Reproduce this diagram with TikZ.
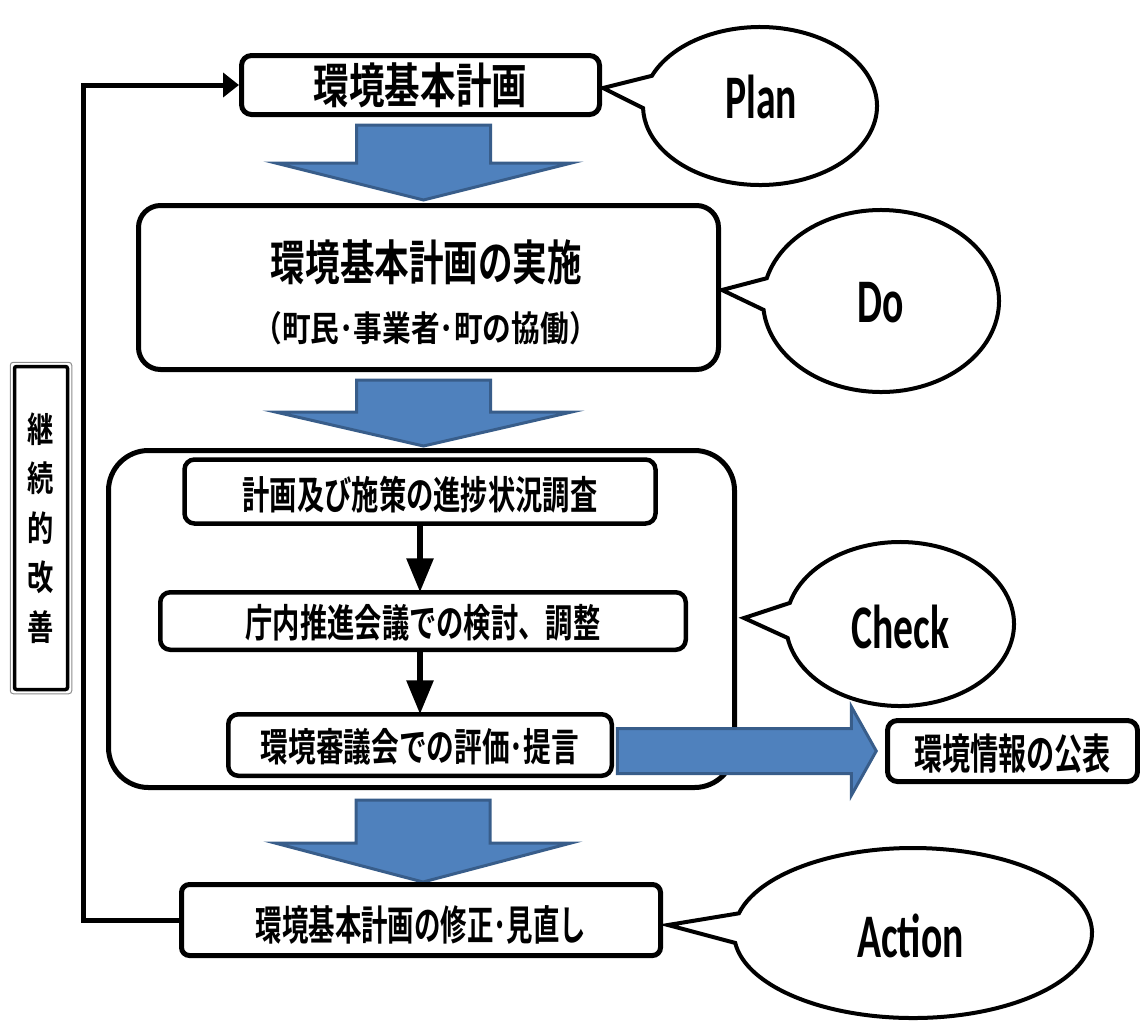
\documentclass[tikz,border=0pt]{standalone}
\usepackage{fontspec}
\usepackage{graphicx}
\usetikzlibrary{arrows.meta,calc}
\newfontfamily\jp{Noto Sans CJK JP}[BoldFont={Noto Sans CJK JP Bold}]
\newfontfamily\lat{Carlito}
\definecolor{blkfill}{HTML}{4F81BD}
\definecolor{blkline}{HTML}{385D8A}
\newcommand\jt[3]{{\fontsize{#1}{#1}\selectfont\scalebox{#2}[1]{#3}}}
\newcommand\dn[2]{\raisebox{-#1}[\height][\depth]{#2}}
\newcommand\lt[1]{{\fontsize{62}{62}\selectfont\scalebox{0.64}[1]{#1}}}
\newcommand\blockdown[3]{\filldraw[blk] (#1) ++(-67,0) -- ++(0,#2) -- ++(-81,0) -- ++(148,#3) -- ++(148,-#3) -- ++(-81,0) -- ++(0,-#2) -- cycle;}
\newcommand\callout[6]{\filldraw[callout] (#6) -- ([shift={(#4:#2 and #3)}]#1) arc[start angle=#4, end angle=#5, x radius=#2, y radius=#3] -- cycle;}
\begin{document}
\begin{tikzpicture}[x=1pt,y=-1pt,
  box/.style={draw=black, fill=white, line width=5pt, rounded corners=10pt, inner sep=0pt, outer sep=0pt, font=\jp\bfseries, align=center},
  jtext/.style={font=\jp\bfseries, inner sep=0pt, anchor=base},
  blk/.style={fill=blkfill, draw=blkline, line width=3pt, line join=miter},
  callout/.style={draw=black, fill=white, line width=4pt, line join=miter},
  fbline/.style={line width=5pt, line join=miter, -{Triangle[width=24pt,length=16pt]}},
  darr/.style={line width=6pt, -{Triangle[width=26pt,length=34pt]}},
  ptext/.style={font=\lat\bfseries, anchor=base, inner sep=0pt}
]
\useasboundingbox (0,0) rectangle (1140,1021);

% main boxes
\node[box, minimum width=358pt, minimum height=59pt] (plan) at (420.5,85) {\jt{48}{0.74}{環境基本計画}};
\node[box, rounded corners=22pt, minimum width=580pt, minimum height=164pt] (do) at (428.5,287.5) {};
\node[jtext] (do1) at (426.5,280) {\jt{48}{0.72}{環境基本計画の実施}};
\node[jtext] (do2) at (425.5,341) {\jt{35}{0.82}{（町民･事業者･町の協働）}};

% blue arrows down (drawn before the boxes they point to)
\coordinate (a1) at ($(plan.south)+(3,10.5)$);
\blockdown{a1}{38}{37}
\coordinate (a2) at ($(do.south)+(-5,10.5)$);
\blockdown{a2}{32}{34}

\node[box, rounded corners=40pt, minimum width=626pt, minimum height=337pt] (chk) at (421.5,619) {};
\coordinate (a3) at ($(chk.south)+(1.5,12.5)$);
\blockdown{a3}{43}{39}

\node[box, line width=4.5pt, minimum width=471pt, minimum height=64pt] (ca) at (420,491.5) {\dn{3pt}{\jt{39}{0.70}{計画及び施策の進捗状況調査}}};
\node[box, line width=4.5pt, minimum width=525.5pt, minimum height=57.5pt] (cb) at (423,621) {\dn{2pt}{\jt{39}{0.70}{庁内推進会議での検討、調整}}};
\node[box, line width=4.5pt, minimum width=383.5pt, minimum height=61.5pt] (cc) at (420,745) {\dn{2pt}{\jt{39}{0.71}{環境審議会での評価･提言}}};
\draw[darr] (ca.south) -- (ca.south |- cb.north);
\draw[darr] (cb.south -| cc.north) -- (cc.north);

\node[box, minimum width=250pt, minimum height=61pt] (info) at (1012.5,751) {\dn{3pt}{\jt{42}{0.67}{環境情報の公表}}};
\coordinate (ra) at ($(cc.east)+(5.5,6)$);
\filldraw[blk] (ra) ++(0,-22.5) -- ++(234,0) -- ++(0,-22) -- ++(25,44.5) -- ++(-25,44.5) -- ++(0,-22) -- ++(-234,0) -- cycle;

\node[box, rounded corners=8pt, minimum width=479pt, minimum height=71pt] (action) at (421,920) {\dn{5pt}{\jt{41}{0.645}{環境基本計画の修正･見直し}}};

% feedback loop
\draw[fbline] (action.west) -- ++(-98.5,0) |- ([xshift=-2.5pt]plan.west);

% side label
\node[draw=black, line width=3.5pt, fill=white, rounded corners=2pt, minimum width=53pt, minimum height=323pt, inner sep=0pt, align=center, font=\jp\bfseries\fontsize{35}{49.5}\selectfont] (kaizen) at (41,528) {\scalebox{0.75}[1]{継}\\\scalebox{0.75}[1]{続}\\\scalebox{0.75}[1]{的}\\\scalebox{0.75}[1]{改}\\\scalebox{0.75}[1]{善}};
\draw[black!45, line width=1pt, rounded corners=3pt] ($(kaizen.north west)+(-2.5,-2.5)$) rectangle ($(kaizen.south east)+(2.5,2.5)$);

% callouts
\coordinate (planc) at (760,106);
\coordinate (plantip) at ($(plan.east)+(3.5,3)$);
\callout{planc}{117}{79}{202.5}{538.5}{plantip}
\node[ptext] (plant) at (761,118) {\lt{Plan}};

\coordinate (doc) at (881,301);
\coordinate (dotip) at ($(do.east)+(3.5,2.5)$);
\callout{doc}{118}{91}{194.5}{534.4}{dotip}
\node[ptext] (dot) at (880.5,322) {\lt{Do}};

\coordinate (chkc) at (900,624);
\coordinate (chktip) at ($(chk.east)+(9.5,-1)$);
\callout{chkc}{114}{82}{194.9}{530.2}{chktip}
\node[ptext] (chkt) at (900.5,648) {\lt{Check}};

\coordinate (actc) at (913,933);
\coordinate (acttip) at ($(action.east)+(7.5,5)$);
\callout{actc}{179}{85}{193.4}{533.3}{acttip}
\node[ptext] (actt) at (910.5,957) {\lt{Action}};
\end{tikzpicture}
\end{document}
